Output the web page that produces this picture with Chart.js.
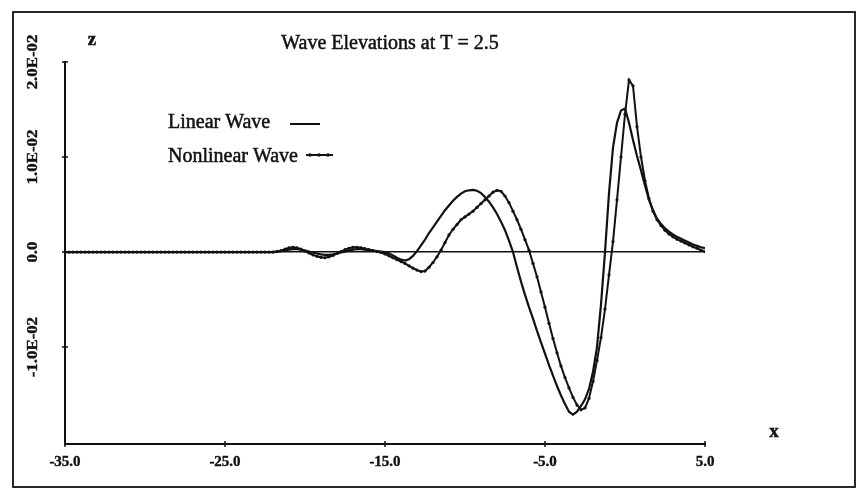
<!DOCTYPE html>
<html><head><meta charset="utf-8">
<script src="https://cdn.jsdelivr.net/npm/chart.js@4.4.0/dist/chart.umd.min.js"></script>
<style>html,body{margin:0;padding:0;background:#fff;}#wrap{width:864px;height:501px;}</style>
</head><body><div id="wrap"><canvas id="c" width="864" height="501"></canvas></div>
<script>
const chartTitle = 'Wave Elevations at T = 2.5';
const seriesNames = ['Linear Wave', 'Nonlinear Wave'];
const xTickValues = [-35, -25, -15, -5, 5];
const xTickLabels = ['-35.0', '-25.0', '-15.0', '-5.0', '5.0'];
const yTickValues = [-0.01, 0, 0.01, 0.02];
const yTickLabels = ['-1.0E-02', '0.0', '1.0E-02', '2.0E-02'];

const xValues = [
 -35,-34.75,-34.5,-34.25,-34,-33.75,-33.5,-33.25,-33,-32.75,-32.5,-32.25,
 -32,-31.75,-31.5,-31.25,-31,-30.75,-30.5,-30.25,-30,-29.75,-29.5,-29.25,
 -29,-28.75,-28.5,-28.25,-28,-27.75,-27.5,-27.25,-27,-26.75,-26.5,-26.25,
 -26,-25.75,-25.5,-25.25,-25,-24.75,-24.5,-24.25,-24,-23.75,-23.5,-23.25,
 -23,-22.75,-22.5,-22.25,
 -22,-21.75,-21.5,-21.25,-21,-20.75,-20.5,-20.25,-20,-19.75,-19.5,-19.25,
 -19,-18.75,-18.5,-18.25,-18,-17.75,-17.5,-17.25,-17,-16.75,-16.5,-16.25,
 -16,-15.75,-15.5,-15.25,-15,-14.75,-14.5,-14.25,-14,-13.75,-13.5,-13.25,
 -13,-12.75,-12.5,-12.25,-12,-11.75,-11.5,-11.25,-11,-10.75,-10.5,-10.25,
 -10,-9.75,-9.5,-9.25,-9,-8.75,-8.5,-8.25,-8,-7.75,-7.5,-7.25,
 -7,-6.75,-6.5,-6.25,-6,-5.75,-5.5,-5.25,-5,-4.75,-4.5,-4.25,
 -4,-3.75,-3.5,-3.25,-3,-2.75,-2.5,-2.25,-2,-1.75,-1.5,-1.25,
 -1,-0.75,-0.5,-0.25,0,0.25,0.5,0.75,1,1.25,1.5,1.75,
 2,2.25,2.5,2.75,3,3.25,3.5,3.75,4,4.25,4.5,4.75,5
];

const linearWave = [
 0,0,0,0,0,0,0,0,0,0,0,0,
 0,0,0,0,0,0,0,0,0,0,0,0,
 0,0,0,0,0,0,0,0,0,0,0,0,
 0,0,0,0,0,0,0,0,0,0,0,0,
 0,0,0,0,
 0e-3,0.05e-3,0.1e-3,0.2e-3,
 0.25e-3,0.3e-3,0.3e-3,0.25e-3,
 0.15e-3,0.05e-3,-0.05e-3,-0.15e-3,
 -0.25e-3,-0.3e-3,-0.3e-3,-0.25e-3,
 -0.15e-3,-0.05e-3,0.05e-3,0.15e-3,
 0.25e-3,0.3e-3,0.3e-3,0.25e-3,
 0.2e-3,0.15e-3,0.1e-3,0.05e-3,
 0e-3,-0.15e-3,-0.35e-3,-0.6e-3,
 -0.8e-3,-0.9e-3,-0.75e-3,-0.4e-3,
 0.1e-3,0.7e-3,1.3e-3,2.0e-3,
 2.6e-3,3.2e-3,3.8e-3,4.4e-3,
 4.9e-3,5.4e-3,5.8e-3,6.15e-3,
 6.4e-3,6.5e-3,6.55e-3,6.45e-3,
 6.2e-3,5.8e-3,5.3e-3,4.7e-3,
 4.0e-3,3.2e-3,2.3e-3,1.2e-3,
 0e-3,-1.6e-3,-3.1e-3,-4.5e-3,
 -5.8e-3,-7.0e-3,-8.3e-3,-9.5e-3,
 -10.7e-3,-11.9e-3,-13.0e-3,-14.1e-3,
 -15.1e-3,-16.0e-3,-16.8e-3,-17.1e-3,
 -16.8e-3,-16.2e-3,-15.5e-3,-14.4e-3,
 -12.6e-3,-10.0e-3,-5.5e-3,0e-3,
 6.2e-3,11.0e-3,13.6e-3,14.9e-3,
 15.1e-3,13.6e-3,11.8e-3,10.1e-3,
 8.6e-3,7.0e-3,5.5e-3,4.4e-3,
 3.5e-3,2.95e-3,2.5e-3,2.15e-3,
 1.85e-3,1.6e-3,1.4e-3,1.2e-3,
 1.0e-3,0.8e-3,0.65e-3,0.5e-3,
 0.4e-3
];

const nonlinearWave = [
 0,0,0,0,0,0,0,0,0,0,0,0,
 0,0,0,0,0,0,0,0,0,0,0,0,
 0,0,0,0,0,0,0,0,0,0,0,0,
 0,0,0,0,0,0,0,0,0,0,0,0,
 0,0,0,0,
 0e-3,0.05e-3,0.15e-3,0.3e-3,
 0.45e-3,0.5e-3,0.45e-3,0.3e-3,
 0.1e-3,-0.1e-3,-0.3e-3,-0.45e-3,
 -0.55e-3,-0.6e-3,-0.5e-3,-0.35e-3,
 -0.15e-3,0.05e-3,0.25e-3,0.4e-3,
 0.5e-3,0.5e-3,0.45e-3,0.35e-3,
 0.25e-3,0.15e-3,0.05e-3,-0.05e-3,
 -0.2e-3,-0.4e-3,-0.6e-3,-0.8e-3,
 -1.0e-3,-1.2e-3,-1.45e-3,-1.7e-3,
 -1.9e-3,-2.05e-3,-2.0e-3,-1.6e-3,
 -1.1e-3,-0.5e-3,0.2e-3,1.0e-3,
 1.8e-3,2.4e-3,2.9e-3,3.4e-3,
 3.7e-3,4.0e-3,4.3e-3,4.7e-3,
 5.1e-3,5.5e-3,5.9e-3,6.3e-3,
 6.5e-3,6.4e-3,5.9e-3,5.2e-3,
 4.3e-3,3.4e-3,2.4e-3,1.3e-3,
 0.2e-3,-1.2e-3,-2.6e-3,-4.2e-3,
 -5.8e-3,-7.5e-3,-9.1e-3,-10.6e-3,
 -12.0e-3,-13.2e-3,-14.3e-3,-15.3e-3,
 -16.1e-3,-16.6e-3,-16.4e-3,-15.4e-3,
 -13.6e-3,-11.4e-3,-9.0e-3,-6.0e-3,
 -2.4e-3,1.1e-3,5.5e-3,10.0e-3,
 14.5e-3,18.1e-3,17.5e-3,13.2e-3,
 10.0e-3,7.5e-3,5.6e-3,4.3e-3,
 3.4e-3,2.8e-3,2.3e-3,1.9e-3,
 1.6e-3,1.35e-3,1.15e-3,0.95e-3,
 0.75e-3,0.55e-3,0.4e-3,0.2e-3,
 0.05e-3
];

const INK = '#111';
const SERIF = '"Liberation Serif", "DejaVu Serif", serif';

function inkText(ctx, s, x, y, w) {
  ctx.fillText(s, x, y);
  ctx.lineWidth = w;
  ctx.strokeText(s, x, y);
}

const decorPlugin = {
  id: 'decor',
  beforeDraw(chart) {
    const ctx = chart.ctx;
    ctx.save();
    ctx.fillStyle = '#fff';
    ctx.fillRect(0, 0, chart.width, chart.height);
    ctx.restore();
  },
  afterDraw(chart) {
    const ctx = chart.ctx;
    const xs = chart.scales.x, ys = chart.scales.y;
    const area = chart.chartArea;
    ctx.save();
    ctx.strokeStyle = INK;
    ctx.fillStyle = INK;
    ctx.lineWidth = 1.8;
    ctx.strokeRect(13, 12, 842, 475);
    ctx.lineWidth = 1.5;
    ctx.beginPath();
    xTickValues.forEach(v => {
      const px = xs.getPixelForValue(v);
      ctx.moveTo(px, area.bottom - 3); ctx.lineTo(px, area.bottom + 3);
    });
    yTickValues.forEach(v => {
      const py = ys.getPixelForValue(v);
      ctx.moveTo(area.left - 3, py); ctx.lineTo(area.left + 3, py);
    });
    ctx.stroke();
    ctx.font = 'bold 15px ' + SERIF;
    ctx.textAlign = 'center';
    ctx.textBaseline = 'middle';
    xTickValues.forEach((v, i) => {
      inkText(ctx, xTickLabels[i], xs.getPixelForValue(v), area.bottom + 18, 0.4);
    });
    yTickValues.forEach((v, i) => {
      ctx.save();
      ctx.translate(33, ys.getPixelForValue(v));
      ctx.rotate(-Math.PI / 2);
      ctx.scale(1.12, 1);
      inkText(ctx, yTickLabels[i], 0, 0, 0.4);
      ctx.restore();
    });
    ctx.font = 'bold 19px ' + SERIF;
    inkText(ctx, 'z', 92, 40, 0.5);
    inkText(ctx, 'x', 774, 432, 0.5);
    ctx.font = '20px ' + SERIF;
    inkText(ctx, chartTitle, 390, 44, 0.5);
    ctx.textAlign = 'left';
    inkText(ctx, seriesNames[0], 168, 123, 0.5);
    inkText(ctx, seriesNames[1], 168, 157, 0.5);
    ctx.lineWidth = 1.8;
    ctx.beginPath();
    ctx.moveTo(290, 124); ctx.lineTo(320, 124);
    ctx.moveTo(306, 155); ctx.lineTo(333, 155);
    ctx.stroke();
    [310, 319, 328].forEach(px => {
      ctx.beginPath(); ctx.arc(px, 155, 1.8, 0, Math.PI * 2); ctx.fill();
    });
    ctx.restore();
  }
};

new Chart(document.getElementById('c'), {
  type: 'line',
  data: {
    datasets: [
      {
        label: seriesNames[0],
        data: xValues.map((x, i) => ({ x: x, y: linearWave[i] })),
        borderColor: INK, borderWidth: 2.2, pointRadius: 0, tension: 0, fill: false
      },
      {
        label: seriesNames[1],
        data: xValues.map((x, i) => ({ x: x, y: nonlinearWave[i] })),
        borderColor: INK, borderWidth: 2.0, tension: 0, fill: false,
        pointRadius: 1.6, pointBackgroundColor: INK, pointBorderWidth: 0, pointStyle: 'circle'
      }
    ]
  },
  options: {
    responsive: false, animation: false, devicePixelRatio: 1,
    layout: { padding: { left: 65, top: 62, right: 159, bottom: 57 } },
    plugins: { legend: { display: false }, title: { display: false }, tooltip: { enabled: false } },
    scales: {
      x: {
        type: 'linear', min: -35, max: 5,
        afterBuildTicks: s => { s.ticks = xTickValues.map(v => ({ value: v })); },
        ticks: { display: false },
        grid: { display: false, drawTicks: false },
        border: { display: true, color: INK, width: 2 }
      },
      y: {
        type: 'linear', min: -0.0202, max: 0.02,
        afterBuildTicks: s => { s.ticks = yTickValues.map(v => ({ value: v })); },
        ticks: { display: false },
        grid: {
          drawTicks: false, lineWidth: 1.5,
          color: c => (c.tick && c.tick.value === 0) ? INK : 'rgba(0,0,0,0)'
        },
        border: { display: true, color: INK, width: 2 }
      }
    }
  },
  plugins: [decorPlugin]
});
</script>
</body></html>
